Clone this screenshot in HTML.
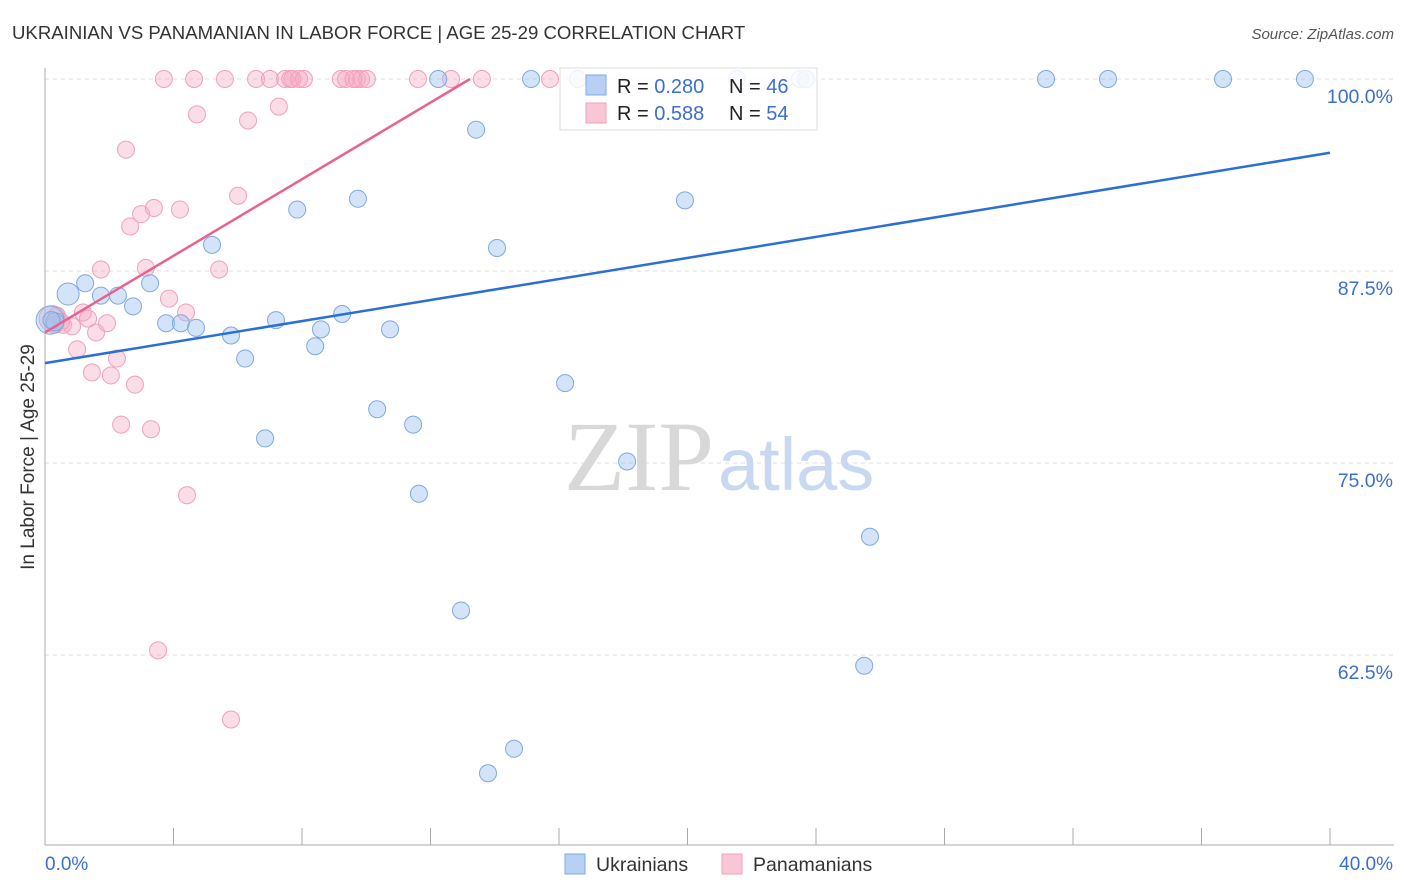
<!DOCTYPE html>
<html><head><meta charset="utf-8"><style>
body{margin:0;background:#fff;font-family:"Liberation Sans",sans-serif;}
svg{display:block}
</style></head><body>
<svg id="chart" width="1406" height="892">
<text x="12" y="39" font-size="18.6" fill="#333">UKRAINIAN VS PANAMANIAN IN LABOR FORCE | AGE 25-29 CORRELATION CHART</text>
<text x="1394" y="39" font-size="15" fill="#555" font-style="italic" text-anchor="end">Source: ZipAtlas.com</text>
<g id="grid"></g>
<text x="714" y="490" font-size="100" fill="#d8d8d8" text-anchor="end" font-family="Liberation Serif">ZIP</text>
<text x="718" y="490" font-size="74" fill="#c8d8f0">atlas</text>
<g id="marks"></g>
<text transform="translate(34,457) rotate(-90)" font-size="19" fill="#333" text-anchor="middle">In Labor Force | Age 25-29</text>
<text x="45" y="870" font-size="19" fill="#3a6fd0">0.0%</text>
<text x="1393" y="870" font-size="19" fill="#3a6fd0" text-anchor="end">40.0%</text>
<g>
<rect x="560" y="68" width="257" height="62" fill="rgba(255,255,255,0.85)" stroke="#ddd"/>
<rect x="586" y="75" width="20" height="20" fill="#b8d0f4" stroke="#7fa8e0"/>
<rect x="586" y="103" width="20" height="20" fill="#f9c6d6" stroke="#f0a0bb"/>
<text x="617" y="93" font-size="20" fill="#222">R = <tspan fill="#3a6fd0">0.280</tspan><tspan x="729">N = </tspan><tspan fill="#3a6fd0">46</tspan></text>
<text x="617" y="120" font-size="20" fill="#222">R = <tspan fill="#3a6fd0">0.588</tspan><tspan x="729">N = </tspan><tspan fill="#3a6fd0">54</tspan></text>
</g>
<g>
<rect x="565" y="854" width="20" height="20" fill="#b8d0f4" stroke="#7fa8e0"/>
<text x="596" y="871" font-size="19.5" fill="#333">Ukrainians</text>
<rect x="722" y="854" width="20" height="20" fill="#f9c6d6" stroke="#f0a0bb"/>
<text x="753" y="871" font-size="19.5" fill="#333">Panamanians</text>
</g>
</svg>
<script>
const yTicks=[100,87.5,75,62.5];
const yTickLabels=["100.0%","87.5%","75.0%","62.5%"];
const blueX=[0.72,1.25,1.74,2.27,2.74,3.27,3.77,4.23,4.70,5.20,5.79,6.23,6.85,7.19,7.85,8.41,8.59,9.25,9.74,10.34,10.74,11.46,11.64,12.24,12.95,13.42,13.79,14.07,14.60,15.13,16.19,16.59,18.12,19.92,21.54,23.50,23.69,25.50,25.68,31.16,33.09,36.67,39.22,0.16,0.31,0.2];
const blueY=[86.0,86.7,85.9,85.9,85.2,86.7,84.1,84.1,83.8,89.2,83.3,81.8,76.6,84.3,91.5,82.6,83.7,84.7,92.2,78.5,83.7,77.5,73.0,100,65.4,96.7,54.8,89.0,56.4,100,80.2,100,75.1,92.1,100,100,100,61.8,70.2,100,100,100,100,84.3,84.2,84.3];
const blueR=[11,8.5,8.5,8.5,8.5,8.5,8.5,8.5,8.5,8.5,8.5,8.5,8.5,8.5,8.5,8.5,8.5,8.5,8.5,8.5,8.5,8.5,8.5,8.5,8.5,8.5,8.5,8.5,8.5,8.5,8.5,8.5,8.5,8.5,8.5,8.5,8.5,8.5,8.5,8.5,8.5,8.5,8.5,14,9,8.5];
const pinkX=[0.22,0.37,0.56,0.84,1.00,1.18,1.34,1.46,1.59,1.74,1.93,2.05,2.24,2.37,2.52,2.65,2.80,2.99,3.14,3.30,3.39,3.52,3.70,3.86,4.20,4.39,4.42,4.64,4.73,5.42,5.60,5.79,6.01,6.32,6.57,7.00,7.28,7.47,7.63,7.91,8.06,9.21,9.37,9.71,9.84,10.02,11.61,12.64,13.60,15.72,0.50,7.7,9.6,0.3];
const pinkY=[84.4,84.6,84.0,83.9,82.4,84.8,84.4,80.9,83.5,87.6,84.1,80.7,81.8,77.5,95.4,90.4,80.1,91.2,87.7,77.2,91.6,62.8,100,85.7,91.5,84.8,72.9,100,97.7,87.6,100,58.3,92.4,97.3,100,100,98.2,100,100,100,100,100,100,100,100,100,100,100,100,100,84.2,100,100,84.0];
const blueLineX=[0,40], blueLineY=[81.5,95.2];
const pinkLineX=[0,13.23], pinkLineY=[83.5,100];
const X=v=>45+v/40*1285, Y=v=>79+(100-v)*15.36;
const NS="http://www.w3.org/2000/svg";
const grid=document.getElementById('grid'), marks=document.getElementById('marks');
function mk(tag,at,parent){const e=document.createElementNS(NS,tag);for(const k in at)e.setAttribute(k,at[k]);parent.appendChild(e);return e;}
yTicks.forEach((t,i)=>{
 const g=mk('line',{x1:45,x2:1394,y1:Y(t),y2:Y(t),stroke:'#ddd','stroke-dasharray':'4,4'},grid);
 
 
 const tx=mk('text',{x:1393,y:Y(t)+24,'font-size':19.5,fill:'#3a6fd0','text-anchor':'end'},grid);
 tx.textContent=yTickLabels[i];
 
 
});
const ax=mk('line',{x1:45,x2:45,y1:68,y2:845,stroke:'#aaa'},grid);


const bx=mk('line',{x1:45,x2:1394,y1:845,y2:845,stroke:'#aaa'},grid);


for(let i=1;i<=10;i++){const t=mk('line',{x1:X(i*4),x2:X(i*4),y1:828,y2:845,stroke:'#aaa'},grid);
 
 }
pinkX.forEach((v,i)=>{const c=mk('circle',{cx:X(v),cy:Y(pinkY[i]),r:i==0?13:8.5,fill:'rgba(246,170,196,0.4)',stroke:'#f0a0bb','stroke-width':1},marks);
 
 });
blueX.forEach((v,i)=>{const c=mk('circle',{cx:X(v),cy:Y(blueY[i]),r:blueR[i],fill:'rgba(160,195,240,0.45)',stroke:'#7fa8e0','stroke-width':1},marks);
 
 });
const bl=mk('line',{x1:X(blueLineX[0]),y1:Y(blueLineY[0]),x2:X(blueLineX[1]),y2:Y(blueLineY[1]),stroke:'#2a6fd6','stroke-width':2.5},marks);


const pl=mk('line',{x1:X(pinkLineX[0]),y1:Y(pinkLineY[0]),x2:X(pinkLineX[1]),y2:Y(pinkLineY[1]),stroke:'#e8628e','stroke-width':2.5},marks);


</script>
</body></html>
